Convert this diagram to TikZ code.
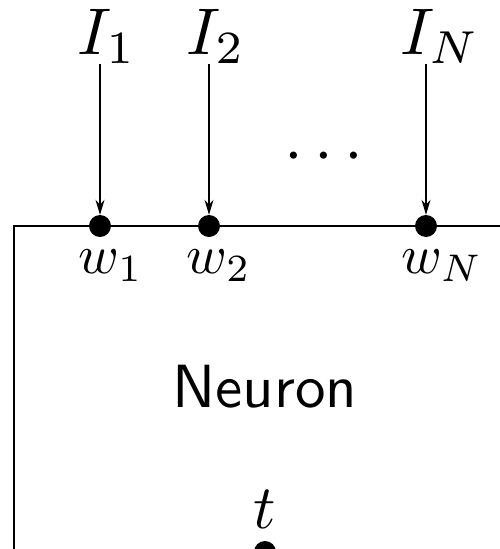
\documentclass[tikz,border=0pt]{standalone}
\usetikzlibrary{arrows.meta}
\begin{document}
\begin{tikzpicture}[x=1pt,y=-1pt,
  inp/.style={inner sep=0pt,scale=6.6},
  wlab/.style={inner sep=0pt,scale=5.5},
  syn/.style={circle,fill=black,inner sep=0pt,minimum size=22pt},
  inarrow/.style={line width=1.4pt,-{Stealth[length=15pt,width=9pt]}},
  boxline/.style={line width=1.8pt}]
\useasboundingbox (0,0) rectangle (500,549);
\clip (0,0) rectangle (500,549);
\fill[white] (0,0) rectangle (500,549);
% box
\draw[boxline] (520,226) -- (14,226) -- (14,551) -- (520,551);
% synapse dots
\node[syn] (d1) at (100,226) {};
\node[syn] (d2) at (209,226) {};
\node[syn] (dN) at (426,226) {};
\node[syn] (dt) at (265,552) {};
% input labels
\node[inp,anchor=base] (I1) at (107,54) {$I_1$};
\node[inp,anchor=base] (I2) at (216,54) {$I_2$};
\node[inp,anchor=base] (IN) at (440,54) {$I_N$};
% arrows
\draw[inarrow] (d1 |- 0,64) -- (d1);
\draw[inarrow] (d2 |- 0,64) -- (d2);
\draw[inarrow] (dN |- 0,64) -- (dN);
% ellipsis
\node[inner sep=0pt,scale=6.75,anchor=base] (dots) at (324,172) {$\cdots$};
% weight labels
\node[wlab,anchor=base] (w1) at (111,273) {$w_1$};
\node[wlab,anchor=base] (w2) at (219,273) {$w_2$};
\node[wlab,anchor=base] (wN) at (442,273) {$w_N$};
% neuron label
\node[inner sep=0pt,scale=6.1,anchor=base] (neu) at (265,407) {\textsf{Neuron}};
% threshold label
\node[inner sep=0pt,scale=6.2,anchor=base] (t) at (265,528) {$t$};
\end{tikzpicture}
\end{document}
